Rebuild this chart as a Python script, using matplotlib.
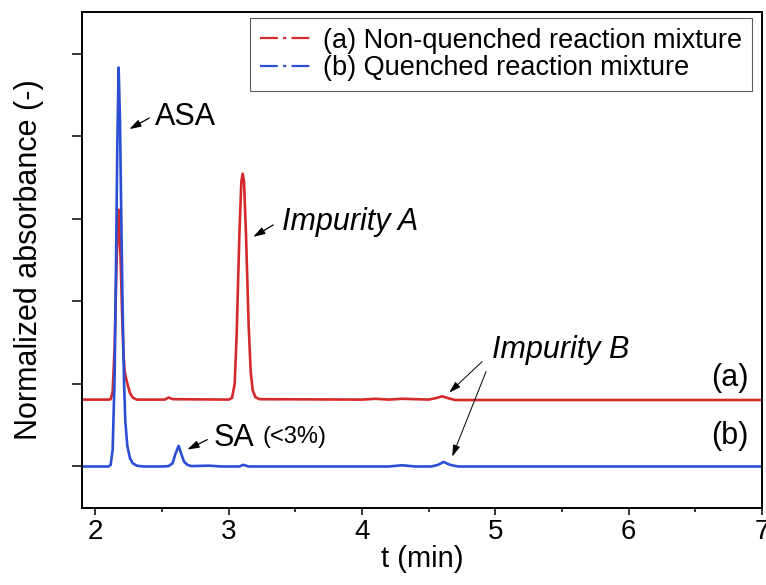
import matplotlib
matplotlib.use('Agg')
import matplotlib.pyplot as plt
from matplotlib.lines import Line2D
from matplotlib.ticker import MultipleLocator

plt.rcParams['font.family'] = ['Liberation Sans', 'DejaVu Sans']

# (b) quenched reaction mixture
t_b = [1.90, 2.10, 2.115, 2.13, 2.145, 2.155, 2.165, 2.175, 2.185, 2.195, 2.205,
       2.215, 2.225, 2.24, 2.26, 2.28, 2.31, 2.36, 2.50, 2.55, 2.58, 2.60, 2.625,
       2.645, 2.665, 2.69, 2.72, 2.85, 2.95, 3.08, 3.11, 3.15, 4.20, 4.30, 4.40,
       4.52, 4.57, 4.61, 4.66, 4.72, 7.00]
y_b = [0.0, 0.0, 0.004, 0.04, 0.22, 0.48, 0.78, 0.966, 0.84, 0.60, 0.38,
       0.21, 0.11, 0.05, 0.02, 0.008, 0.002, 0.0, 0.0, 0.001, 0.008, 0.03, 0.05,
       0.03, 0.012, 0.004, 0.001, 0.002, 0.0, 0.0, 0.004, 0.0, 0.0, 0.003, 0.0,
       0.0, 0.004, 0.011, 0.004, 0.0, 0.0]

# (a) non-quenched reaction mixture
t_a = [1.90, 2.10, 2.115, 2.13, 2.145, 2.16, 2.175, 2.19, 2.20, 2.21, 2.22,
       2.23, 2.245, 2.26, 2.28, 2.31, 2.52, 2.55, 2.58, 3.00, 3.025, 3.045, 3.06,
       3.08, 3.095, 3.105, 3.115, 3.13, 3.15, 3.165, 3.18, 3.20, 3.23, 4.00, 4.10,
       4.20, 4.30, 4.50, 4.56, 4.60, 4.65, 4.70, 7.00]
y_a = [0.162, 0.162, 0.163, 0.18, 0.29, 0.50, 0.622, 0.50, 0.38, 0.28, 0.23,
       0.215, 0.195, 0.178, 0.167, 0.162, 0.162, 0.167, 0.163, 0.162, 0.166, 0.20,
       0.32, 0.56, 0.69, 0.709, 0.69, 0.56, 0.34, 0.23, 0.185, 0.168, 0.163, 0.162,
       0.164, 0.162, 0.164, 0.162, 0.166, 0.170, 0.165, 0.161, 0.161]

labels = ['(a) Non-quenched reaction mixture', '(b) Quenched reaction mixture']
red = '#d42a2c'
blue = '#2b4fd4'

fig = plt.figure(figsize=(7.66, 5.85), dpi=100)
ax = fig.add_axes([0.107, 0.132, 0.888, 0.847])

ax.plot(t_a, y_a, color=red, lw=1.9)
ax.plot(t_b, y_b, color=blue, lw=1.9)

ax.set_xlim(1.9, 7.0)
ax.set_ylim(-0.1, 1.1)
ax.xaxis.set_major_locator(MultipleLocator(1))
ax.xaxis.set_minor_locator(MultipleLocator(0.5))
ax.yaxis.set_major_locator(MultipleLocator(0.2))
ax.set_yticklabels([])
ax.tick_params(axis='x', which='major', direction='out', length=5, width=1.1,
               labelsize=20, pad=3)
ax.tick_params(axis='x', which='minor', direction='out', length=3, width=1.1)
ax.tick_params(axis='y', direction='out', length=7.5, width=1.1)
for s in ax.spines.values():
    s.set_linewidth(1.4)

ax.set_xlabel('t (min)', fontsize=21, labelpad=0)
ax.set_ylabel('Normalized absorbance (-)', fontsize=22, labelpad=16)

arr = dict(arrowstyle='-|>,head_length=0.7,head_width=0.22', color='black',
           lw=0.9, shrinkA=0, shrinkB=0)
ax.annotate('', xy=(2.255, 0.817), xytext=(2.405, 0.844), arrowprops=arr)
ax.text(2.45, 0.846, 'ASA', fontsize=22, va='center')
ax.annotate('', xy=(3.184, 0.556), xytext=(3.334, 0.585), arrowprops=arr)
ax.text(3.40, 0.592, 'Impurity A', fontsize=22, style='italic', va='center')
ax.annotate('', xy=(2.69, 0.041), xytext=(2.84, 0.065), arrowprops=arr)
ax.text(2.885, 0.070, 'SA', fontsize=22, va='center')
ax.text(3.25, 0.072, '(<3%)', fontsize=17, va='center')
thin = dict(arr, lw=0.7)
ax.annotate('', xy=(4.654, 0.179), xytext=(4.90, 0.254), arrowprops=thin)
ax.annotate('', xy=(4.676, 0.024), xytext=(4.93, 0.23), arrowprops=thin)
ax.text(4.975, 0.283, 'Impurity B', fontsize=22, style='italic', va='center')
ax.text(6.895, 0.215, '(a)', fontsize=22, ha='right', va='center')
ax.text(6.895, 0.073, '(b)', fontsize=22, ha='right', va='center')

dash = (0, (8, 2.4, 1.4, 2.4))
handles = [Line2D([], [], color=red, lw=1.6, linestyle=dash),
           Line2D([], [], color=blue, lw=1.6, linestyle=dash)]
leg = ax.legend(handles, labels, loc='upper right', bbox_to_anchor=(0.985, 0.988),
                fontsize=19.5, frameon=True, fancybox=False, borderaxespad=0,
                borderpad=0.35, labelspacing=0.05, handlelength=2.0,
                handletextpad=0.35)
leg.get_frame().set_edgecolor('#333333')
leg.get_frame().set_linewidth(0.8)

fig.savefig('out.png', dpi=100)
